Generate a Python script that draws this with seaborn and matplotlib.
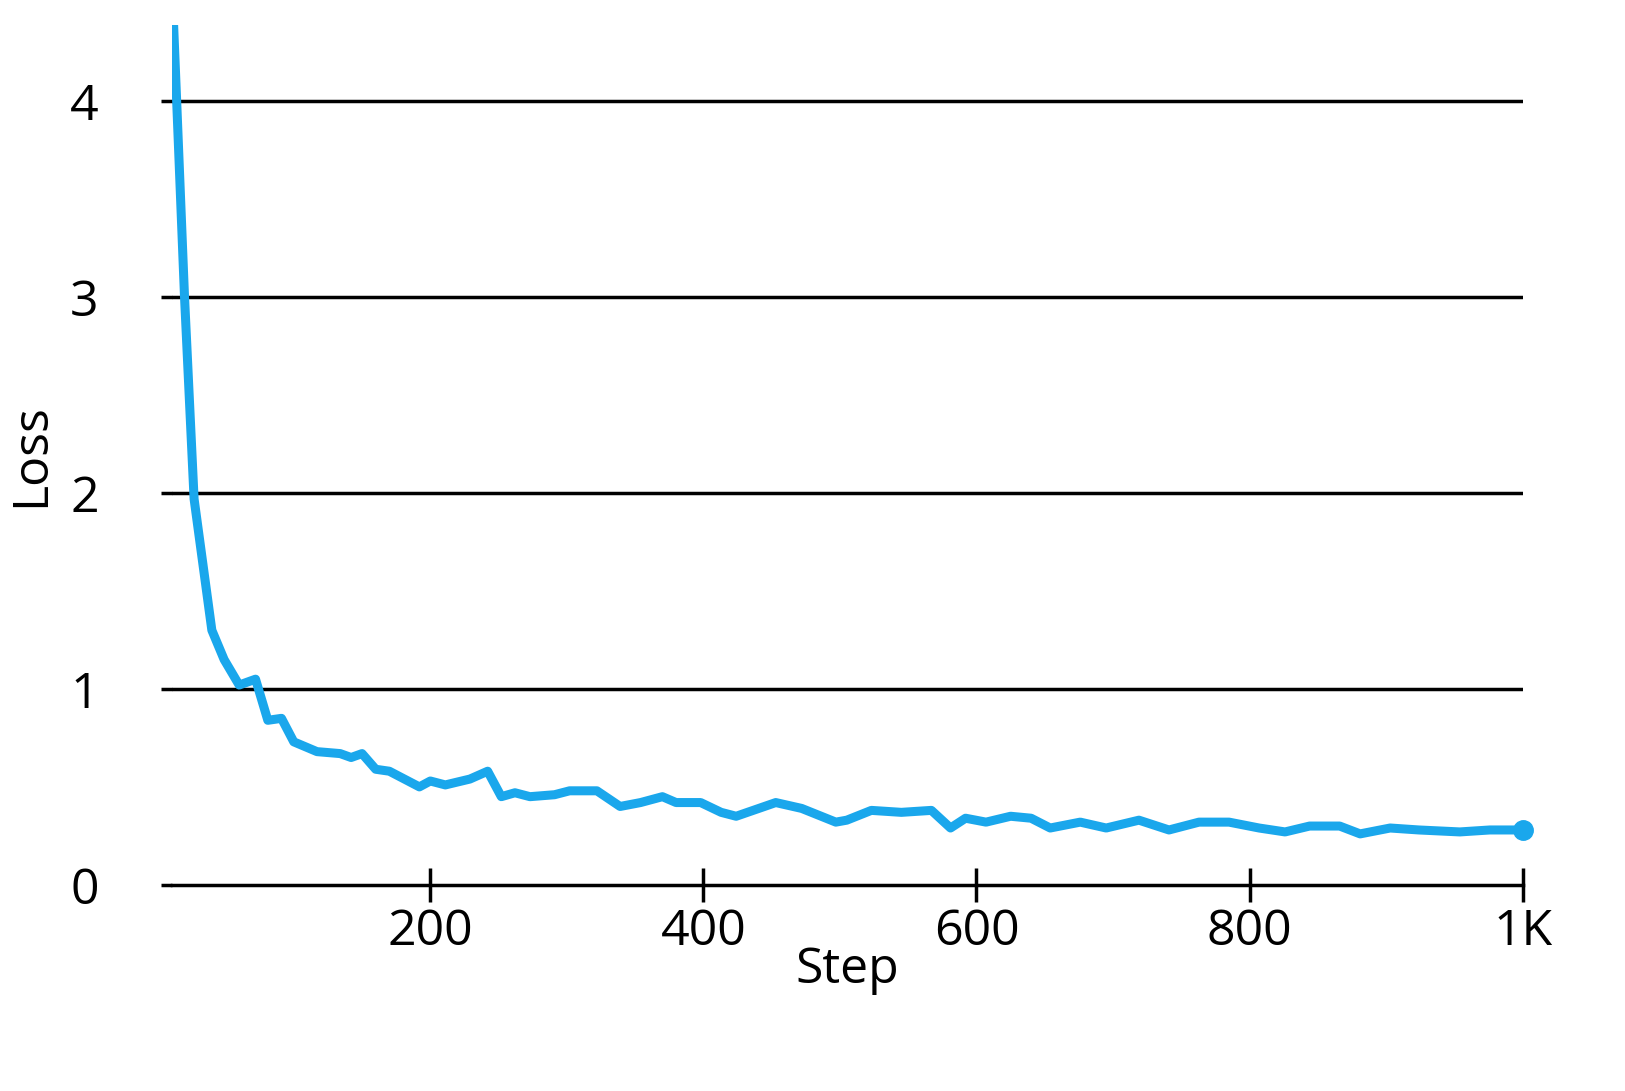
import matplotlib
matplotlib.use("Agg")
import matplotlib.pyplot as plt
import seaborn as sns
import pandas as pd

steps = [12,20,27,40,49,60,72,81,91,100,117,134,142,150,160,170,192,200,211,229,242,252,262,273,291,302,322,339,354,370,380,398,413,424,453,472,497,505,523,545,567,581,592,607,625,640,654,676,695,719,741,763,785,807,826,844,866,881,903,924,954,976,1000]
loss = [4.39,3.0,1.97,1.3,1.15,1.02,1.05,0.84,0.85,0.73,0.68,0.67,0.65,0.67,0.59,0.58,0.5,0.53,0.51,0.54,0.58,0.45,0.47,0.45,0.46,0.48,0.48,0.40,0.42,0.45,0.42,0.42,0.37,0.35,0.42,0.39,0.32,0.33,0.38,0.37,0.38,0.29,0.34,0.32,0.35,0.34,0.29,0.32,0.29,0.33,0.28,0.32,0.32,0.29,0.27,0.30,0.30,0.26,0.29,0.28,0.27,0.28,0.28]
xticks = [200, 400, 600, 800, 1000]
xticklabels = ["200", "400", "600", "800", "1K"]
yticks = [0, 1, 2, 3, 4]

sns.set_style("white")
plt.rcParams['font.family'] = ['Open Sans', 'DejaVu Sans']
plt.rcParams['xtick.bottom'] = True
plt.rcParams['ytick.left'] = True
fig = plt.figure(figsize=(16.25, 10.91), dpi=100)
ax = fig.add_axes([0.106, 0.189, 0.831, 0.788])
df = pd.DataFrame({"Step": steps, "Loss": loss})
sns.lineplot(data=df, x="Step", y="Loss", ax=ax, color="#1aa7ec", lw=6.5)
ax.plot([steps[-1]], [loss[-1]], 'o', color="#1aa7ec", ms=14, clip_on=False)
for y in yticks[1:]:
    ax.axhline(y, color="black", lw=2.5, zorder=0)
ax.set_xlim(11, 1000)
ax.set_ylim(0, 4.39)
for s in ["top", "right", "left"]:
    ax.spines[s].set_visible(False)
ax.spines["bottom"].set_linewidth(2.5)
ax.spines["bottom"].set_color("black")
ax.set_xticks(xticks)
ax.set_xticklabels(xticklabels)
ax.set_yticks(yticks)
ax.tick_params(axis="x", length=24, width=2.5, direction="inout", labelsize=36,
               pad=4, colors="black")
ax.tick_params(axis="y", length=8, width=2.5, direction="out", labelsize=36,
               pad=45, colors="black")
ax.set_xlabel("Step", fontsize=36, labelpad=-8, color="black")
ax.set_ylabel("Loss", fontsize=36, labelpad=10, color="black")
fig.savefig("out.png", dpi=100)
